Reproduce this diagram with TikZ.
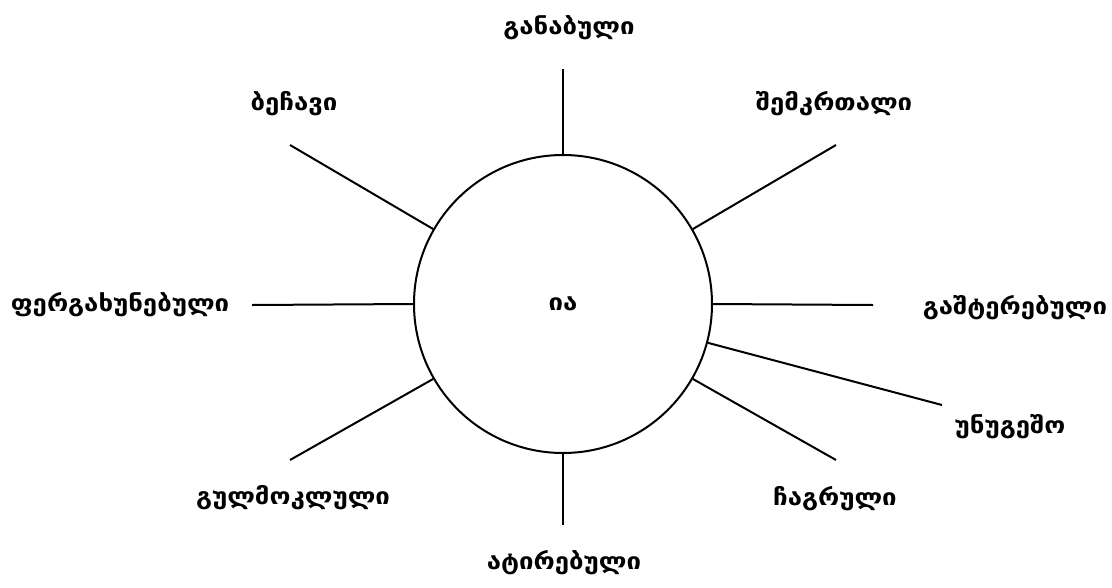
\documentclass[tikz,border=0pt]{standalone}
\usepackage{fontspec}
\setmainfont{DejaVu Sans}
\newfontfamily\geofont[FakeStretch=1.12]{DejaVu Sans}
\begin{document}
\begin{tikzpicture}[x=1pt,y=-1pt,
  lbl/.style={font=\geofont\bfseries\fontsize{23}{26}\selectfont, inner sep=0pt},
  conn/.style={line width=2pt}]
\useasboundingbox (0,0) rectangle (1112,587);
\node[circle, draw, line width=2pt, minimum size=298pt, inner sep=0pt, font=\geofont\bfseries\fontsize{23}{26}\selectfont] (c) at (563,304) {ია};
% outer ends
\coordinate (eT) at (563,69);
\coordinate (eB) at (563,525);
\coordinate (eL) at (252,305);
\coordinate (eR) at (873,305);
\coordinate (eUL) at (290,145);
\coordinate (eUR) at (836,145);
\coordinate (eLL) at (290,460);
\coordinate (eLR) at (836,460);
\coordinate (eU) at (942,405);
\draw[conn] (c.90) -- (eT);
\draw[conn] (c.270) -- (eB);
\draw[conn] (c.180) -- (eL);
\draw[conn] (c.0) -- (eR);
\draw[conn] (c.150) -- (eUL);
\draw[conn] (c.30) -- (eUR);
\draw[conn] (c.210) -- (eLL);
\draw[conn] (c.330) -- (eLR);
\draw[conn] (c.345) -- (eU);
% labels
\node[lbl] (t) at (569,28) {განაბული};
\node[lbl] (ul) at (294,104) {ბეჩავი};
\node[lbl] (ur) at (834,104) {შემკრთალი};
\node[lbl] (l) at (120,305) {ფერგახუნებული};
\node[lbl] (r) at (1015,308) {გაშტერებული};
\node[lbl] (u) at (1010,427) {უნუგეშო};
\node[lbl] (ll) at (293,498) {გულმოკლული};
\node[lbl] (lr) at (835,499) {ჩაგრული};
\node[lbl] (b) at (564,563) {ატირებული};
\end{tikzpicture}
\end{document}
